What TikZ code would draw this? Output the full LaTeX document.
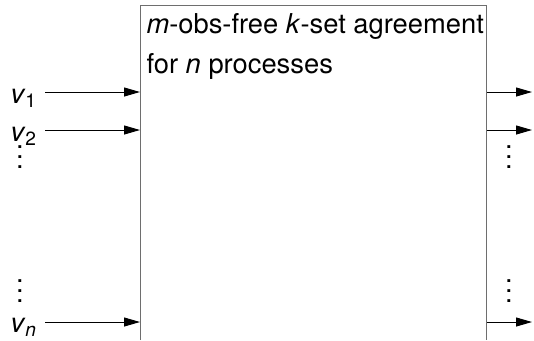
\documentclass[tikz,border=0pt]{standalone}
\usepackage{fontspec}
\setmainfont{TeX Gyre Heros}
\usetikzlibrary{arrows.meta}

\tikzset{every picture/.style={line width=0.75pt}}
\tikzset{
  sig/.style={-{Triangle[length=12pt,width=6.75pt]}},
  lbl/.style={inner sep=0.75pt,font=\fontsize{20.5}{28.5}\selectfont},
}
\definecolor{boxgray}{RGB}{110,110,110}
\newcommand{\dotstack}{\vbox{\baselineskip7.5pt\lineskiplimit0pt\hbox{.}\hbox{.}\hbox{.}}}

\begin{document}
\begin{tikzpicture}[x=0.75pt,y=0.75pt,yscale=-1,xscale=1]
	\useasboundingbox (0,0) rectangle (534,340);

	%Shape: Box open at the bottom
	\draw [color=boxgray] (140.5,340) -- (140.5,5) -- (486.5,5) -- (486.5,340) ;

	% Text Node
	\node (title) [lbl,anchor=base west] at (145,33) {\textit{m}-obs-free \textit{k}-set agreement};
	\node (title2) [lbl,anchor=base west] at (145,73) {for \textit{n} processes};

	% Inputs
	\node (v1) [lbl,anchor=base west] at (9,103) {\textit{v}\textsubscript{1}};
	\node (v2) [lbl,anchor=base west] at (9,141) {\textit{v}\textsubscript{2}};
	\node (vn) [lbl,anchor=base west] at (9,332) {\textit{v}\textsubscript{\textit{n}}};
	\node (ldotsA) [lbl] at (20,157) {\dotstack};
	\node (ldotsB) [lbl] at (20,291) {\dotstack};

	% Outputs
	\node (rdotsA) [lbl] at (509,157) {\dotstack};
	\node (rdotsB) [lbl] at (509,291) {\dotstack};

	\coordinate (a1) at (45,92);   \coordinate (i1) at (140,92);
	\coordinate (a2) at (45,130);  \coordinate (i2) at (140,130);
	\coordinate (an) at (45,322);  \coordinate (iN) at (140,322);
	\coordinate (o1) at (487,92);  \coordinate (b1) at (532,92);
	\coordinate (o2) at (487,130); \coordinate (b2) at (532,130);
	\coordinate (oN) at (487,322); \coordinate (bn) at (532,322);

	%Straight Lines
	\draw [sig] (a1) -- (i1) ;
	\draw [sig] (a2) -- (i2) ;
	\draw [sig] (an) -- (iN) ;
	\draw [sig] (o1) -- (b1) ;
	\draw [sig] (o2) -- (b2) ;
	\draw [sig] (oN) -- (bn) ;

\end{tikzpicture}
\end{document}
